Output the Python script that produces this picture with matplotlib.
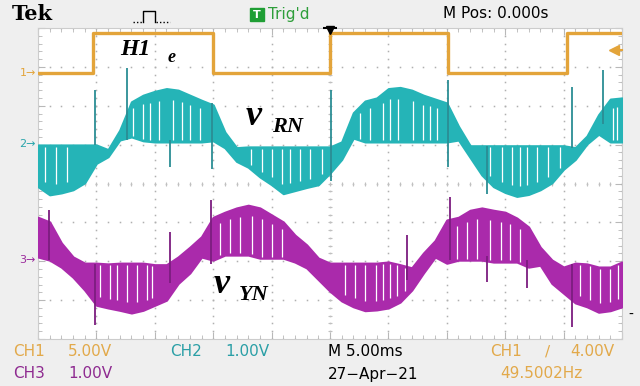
import numpy as np
import matplotlib.pyplot as plt
from matplotlib.patches import Rectangle
from matplotlib.lines import Line2D

# Captura Tek: H1_e (CH1), v_RN (CH2), v_YN (CH3); 5 ms/div
t_ms = np.arange(-25, 26)

# CH1: senal cuadrada H1_e (V)
ch1_t = [-25, -20.3, -20.3, -10.0, -10.0, 0.0, 0.0, 10.1, 10.1, 20.3, 20.3, 25]
ch1_v = [0.0, 0.0, 5.1, 5.1, 0.0, 0.0, 5.1, 5.1, 0.0, 0.0, 5.1, 5.1]

# CH2: v_RN, bordes superior / inferior de la banda PWM (V)
ch2_hi = [-0.03, -0.03, -0.03, -0.03, -0.03, -0.03, -0.15, 0.35, 1.08, 1.25,
          1.35, 1.42, 1.38, 1.25, 1.12, 1.00, 0.30, -0.10, -0.08, -0.08,
          -0.08, -0.08, -0.08, -0.08, -0.08, -0.08, 0.05, 0.80, 1.10, 1.18,
          1.42, 1.45, 1.38, 1.25, 1.15, 1.05, 0.45, -0.05, -0.05, -0.05,
          -0.05, -0.05, -0.05, -0.05, -0.05, -0.05, -0.10, 0.20, 0.75, 1.15, 1.18]
ch2_lo = [-1.10, -1.31, -1.26, -1.18, -1.00, -0.50, -0.33, 0.10, 0.18, 0.08,
          0.05, 0.05, 0.05, 0.05, 0.05, 0.08, -0.10, -0.45, -0.60, -0.85,
          -1.05, -1.28, -1.20, -1.12, -1.05, -0.75, -0.40, 0.15, 0.05, 0.05,
          0.05, 0.05, 0.05, 0.05, 0.05, 0.05, 0.10, -0.35, -0.80, -1.10,
          -1.25, -1.35, -1.30, -1.18, -1.00, -0.65, -0.40, 0.00, 0.25, 0.05, 0.05]
ch2_gaps = [-24.4, -23.5, -22.5, -16.9, -16.0, -15.4, -14.6, -13.4, -12.7, -12.0,
            -11.1, -6.8, -5.8, -5.0, -4.1, -3.4, -2.6, -1.7, -0.7, 2.6, 3.4, 4.5,
            5.1, 5.8, 7.1, 8.0, 8.6, 9.2, 13.7, 14.7, 15.6, 16.3, 16.9, 17.7,
            18.7, 19.7, 24.2, 24.6]
ch2_spikes = [(-20.1, -0.03, 1.38), (-17.4, 0.10, 1.95), (-13.7, -0.60, 0.10),
              (-10.1, -0.65, 1.05), (0.1, -0.95, 1.38), (10.1, -0.60, 1.65),
              (13.4, -1.30, -0.05), (20.7, -0.10, 1.47), (23.4, 0.50, 1.90)]

# CH3: v_YN (V)
ch3_hi = [1.10, 0.98, 0.44, 0.08, -0.08, -0.08, -0.10, -0.08, -0.08, -0.08,
          -0.12, -0.12, 0.08, 0.33, 0.60, 1.10, 1.23, 1.34, 1.41, 1.34,
          1.16, 0.98, 0.64, 0.39, 0.05, -0.08, -0.08, -0.08, -0.08, -0.08,
          -0.05, -0.12, -0.20, 0.18, 0.50, 1.03, 1.10, 1.28, 1.34, 1.28,
          1.23, 1.08, 0.85, 0.33, 0.00, -0.18, -0.08, -0.10, -0.18, -0.18, -0.05]
ch3_lo = [0.08, 0.00, -0.18, -0.44, -0.77, -1.16, -1.23, -1.29, -1.36, -1.29,
          -1.16, -1.03, -0.60, -0.33, 0.08, 0.00, 0.13, 0.13, 0.13, 0.05,
          0.05, 0.05, -0.05, -0.20, -0.50, -0.80, -1.05, -1.20, -1.30, -1.28,
          -1.23, -1.08, -0.77, -0.33, 0.08, -0.08, 0.00, 0.00, 0.00, -0.05,
          -0.05, -0.05, -0.18, -0.13, -0.60, -0.85, -1.10, -1.20, -1.34, -1.30, -1.20]
ch3_gaps = [-19.7, -18.8, -18.2, -17.4, -16.5, -15.7, -15.2, -9.4, -8.6, -7.7,
            -6.7, -5.8, -5.0, -4.1, 1.3, 2.1, 3.0, 3.9, 4.5, 5.1, 5.7, 6.4,
            10.9, 11.7, 12.6, 13.7, 14.6, 15.4, 16.3, 21.4, 22.3, 23.1, 24.0, 24.7]
ch3_spikes = [(-24.1, 0.00, 1.28), (-20.1, -1.67, -0.10), (-13.7, -0.60, 0.72),
              (-10.2, -0.10, 1.54), (6.6, -0.50, 0.64), (10.3, 0.00, 1.62),
              (13.4, -0.57, 0.10), (16.9, -0.72, 0.00), (20.7, -1.72, -0.10)]

# posicion de tierra de cada canal (div) y escala (V/div)
off1, esc1 = 2.84, 5.0
off2, esc2 = 1.02, 1.0
off3, esc3 = -1.97, 1.0

c1 = '#e3a43a'
c2, c2d = '#25b4b7', '#2b8d94'
c3, c3d = '#aa2aab', '#7c1d7f'

fig = plt.figure(figsize=(6.4, 3.86), dpi=100, facecolor='#efefef')
ax = fig.add_axes([38/640, 1 - 339/386, 584/640, 311/386], facecolor='white')
ax.set_xlim(-25, 25)
ax.set_ylim(-4, 4)

# reticula punteada
gx, gy = np.meshgrid(np.arange(-25, 26, 5), np.arange(-4, 4.01, 0.2))
ax.plot(gx.ravel(), gy.ravel(), ls='none', marker='s', ms=1.1, mew=0, color='#b0b0b0')
hx, hy = np.meshgrid(np.arange(-25, 26, 1), np.arange(-4, 5, 1))
ax.plot(hx.ravel(), hy.ravel(), ls='none', marker='s', ms=1.1, mew=0, color='#b0b0b0')
ax.plot(np.zeros(41), np.arange(-4, 4.01, 0.2), ls='none', marker='_', ms=3, mew=0.8, color='#c0c0c0')
ax.plot(np.arange(-25, 26, 1), np.zeros(51), ls='none', marker='|', ms=3, mew=0.8, color='#c0c0c0')

ax.set_xticks(np.arange(-25, 26, 5))
ax.set_xticks(np.arange(-25, 26, 1), minor=True)
ax.set_yticks(np.arange(-4, 5, 1))
ax.set_yticks(np.arange(-4, 4.01, 0.2), minor=True)
ax.tick_params(which='both', direction='in', top=True, right=True,
               labelbottom=False, labelleft=False, color='#b8b8b8')
ax.tick_params(which='major', length=5)
ax.tick_params(which='minor', length=3)
for s in ax.spines.values():
    s.set_color('#cccccc')


def canal(hi, lo, gaps, spikes, off, esc, col, cold):
    hi = off + np.array(hi) / esc
    lo = off + np.array(lo) / esc
    ax.fill_between(t_ms, lo, hi, color=col, edgecolor=col, lw=1.6, zorder=3)
    for g in gaps:
        h = np.interp(g, t_ms, hi)
        l = np.interp(g, t_ms, lo)
        if (h + l) / 2 > off:
            ax.vlines(g, l + 0.04, l + 0.8 * (h - l), color='white', lw=0.9, zorder=4)
        else:
            ax.vlines(g, h - 0.8 * (h - l), h - 0.04, color='white', lw=0.9, zorder=4)
    for g, a, b in spikes:
        ax.vlines(g, off + a / esc, off + b / esc, color=cold, lw=1.3, zorder=5)


canal(ch2_hi, ch2_lo, ch2_gaps, ch2_spikes, off2, esc2, c2, c2d)
canal(ch3_hi, ch3_lo, ch3_gaps, ch3_spikes, off3, esc3, c3, c3d)
ax.plot(ch1_t, off1 + np.array(ch1_v) / esc1, color=c1, lw=2.4, zorder=6)

# etiquetas de las senales
serif = dict(family='Liberation Serif', weight='bold', style='italic', color='black')
ax.text(-18.0, 3.45, 'H1', fontsize=17, va='center', zorder=7, **serif)
ax.text(-13.9, 3.25, 'e', fontsize=13, va='center', zorder=7, **serif)
ax.text(-7.2, 1.72, 'v', fontsize=26, va='center', zorder=7, **serif)
ax.text(-5.0, 1.45, 'RN', fontsize=16, va='center', zorder=7, **serif)
ax.text(-10.0, -2.6, 'v', fontsize=26, va='center', zorder=7, **serif)
ax.text(-7.8, -2.88, 'YN', fontsize=16, va='center', zorder=7, **serif)

# marcadores de disparo
ax.plot([0], [3.96], marker='v', ms=6, color='black', clip_on=False, zorder=8)
ax.plot([0], [4.0], marker='_', ms=10, mew=1.5, color='black', clip_on=False, zorder=8)
ax.plot([0.986], [0.929], marker='<', ms=7, color=c1, transform=ax.transAxes, clip_on=False, zorder=8)
ax.plot([0.986, 1.0], [0.929, 0.929], color=c1, lw=1.5, transform=ax.transAxes, clip_on=False, zorder=8)


def ftxt(x, y, s, **kw):
    fig.text(x / 640, 1 - y / 386, s, va='center', **kw)


# marcadores de canal a la izquierda
ftxt(36, 73, '1\u2192', color=c1, fontsize=8, ha='right')
ftxt(36, 144, '2\u2192', color='#2aa5ab', fontsize=8, ha='right')
ftxt(36, 260, '3\u2192', color='#9b2a9c', fontsize=8, ha='right')
ftxt(628, 315, '-', color='black', fontsize=10)

# barra superior
ftxt(12, 14, 'Tek', family='DejaVu Serif', weight='bold', fontsize=15, color='black')
pulso = Line2D(np.array([143, 143, 155, 155]) / 640, 1 - np.array([22, 11, 11, 22]) / 386,
               color='black', lw=1.0)
fig.add_artist(pulso)
fig.add_artist(Line2D(np.array([133, 142]) / 640, 1 - np.array([22, 22]) / 386,
                      color='black', lw=1.0, ls=(0, (1, 1.5))))
fig.add_artist(Line2D(np.array([156, 170]) / 640, 1 - np.array([22, 22]) / 386,
                      color='black', lw=1.0, ls=(0, (1, 1.5))))
fig.add_artist(Rectangle((250 / 640, 1 - 21 / 386), 14 / 640, 13 / 386,
                         transform=fig.transFigure, color='#1f9e34'))
ftxt(257, 14.5, 'T', color='white', fontsize=8, weight='bold', ha='center')
ftxt(268, 14, "Trig'd", color='#2e9e3a', fontsize=11)
ftxt(443, 14, 'M Pos: 0.000s', color='black', fontsize=11)

# barra inferior
ftxt(13, 352, 'CH1', color='#e2a94a', fontsize=11)
ftxt(68, 352, '5.00V', color='#e2a94a', fontsize=11)
ftxt(170, 352, 'CH2', color='#2a9fa6', fontsize=11)
ftxt(225, 352, '1.00V', color='#2a9fa6', fontsize=11)
ftxt(13, 374, 'CH3', color='#8e2a90', fontsize=11)
ftxt(68, 374, '1.00V', color='#8e2a90', fontsize=11)
ftxt(328, 352, 'M 5.00ms', color='black', fontsize=11)
ftxt(328, 374, '27\u2212Apr\u221221', color='black', fontsize=11)
ftxt(490, 352, 'CH1', color='#e2a94a', fontsize=11)
ftxt(545, 352, '\u2215', color='#e2a94a', fontsize=11)
ftxt(570, 352, '4.00V', color='#e2a94a', fontsize=11)
ftxt(500, 374, '49.5002Hz', color='#e2a94a', fontsize=11)

fig.savefig('out.png', dpi=100, facecolor=fig.get_facecolor())
